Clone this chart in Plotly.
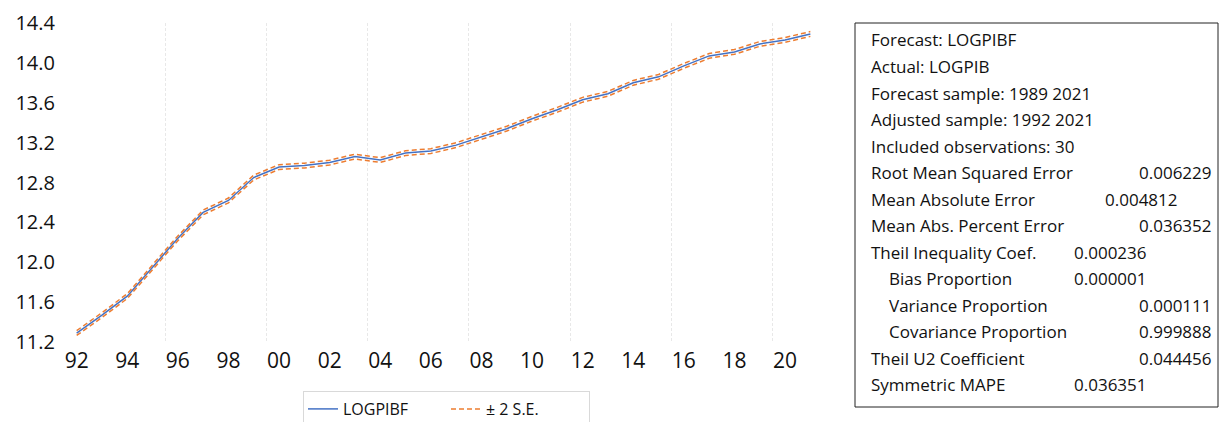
import plotly.graph_objects as go

# Forecast of LOGPIBF, 1992-2021
years = list(range(1992, 2022))
logpibf = [11.29, 11.47, 11.66, 11.95, 12.24, 12.50, 12.62, 12.85, 12.955, 12.97,
           13.00, 13.06, 13.025, 13.095, 13.115, 13.175, 13.26, 13.34, 13.44, 13.53,
           13.63, 13.69, 13.80, 13.86, 13.97, 14.07, 14.11, 14.19, 14.23, 14.29]
two_se = 0.024  # half-width of the +/- 2 S.E. band

x_tick_vals = list(range(1992, 2021, 2))
x_tick_text = [f"{y % 100:02d}" for y in x_tick_vals]
grid_years = [1995.5, 1999.5, 2003.5, 2007.5, 2011.5, 2015.5, 2019.5]

stat_labels = [
    "Forecast: LOGPIBF",
    "Actual: LOGPIB",
    "Forecast sample: 1989 2021",
    "Adjusted sample: 1992 2021",
    "Included observations: 30",
    "Root Mean Squared Error",
    "Mean Absolute Error",
    "Mean Abs. Percent Error",
    "Theil Inequality Coef.",
    "Bias Proportion",
    "Variance Proportion",
    "Covariance Proportion",
    "Theil U2 Coefficient",
    "Symmetric MAPE",
]
stat_values = ["", "", "", "", "", "0.006229", "0.004812", "0.036352", "0.000236",
               "0.000001", "0.000111", "0.999888", "0.044456", "0.036351"]
stat_indent = [False] * 9 + [True, True, True] + [False, False]
# value column: "r" = right aligned at box edge, "m"/"m2" = middle columns
stat_value_pos = ["", "", "", "", "", "r", "m2", "r", "m", "m", "r", "r", "r", "m"]

upper = [v + two_se for v in logpibf]
lower = [v - two_se for v in logpibf]

W, H = 1230, 422
L, R, T, B = 64, 407, 23, 80
PW, PH = W - L - R, H - T - B


def px(xp):
    return (xp - L) / PW


def py(yp):
    return (H - B - yp) / PH


FONT = "Open Sans"
BLUE = "#4472C4"
ORANGE = "#ED7D31"
TXT = 17

fig = go.Figure()
fig.add_trace(go.Scatter(x=years, y=logpibf, mode="lines", name="LOGPIBF",
                         line=dict(color=BLUE, width=1.5)))
fig.add_trace(go.Scatter(x=years, y=upper, mode="lines", name="± 2 S.E.",
                         legendgroup="se",
                         line=dict(color=ORANGE, width=1.5, dash="5px,3px")))
fig.add_trace(go.Scatter(x=years, y=lower, mode="lines", name="± 2 S.E.",
                         legendgroup="se", showlegend=False,
                         line=dict(color=ORANGE, width=1.5, dash="5px,3px")))
# invisible trace on the gridline axis
fig.add_trace(go.Scatter(x=[1991.5], y=[None], xaxis="x2", showlegend=False,
                         hoverinfo="skip"))

fig.update_layout(
    width=W, height=H,
    margin=dict(l=L, r=R, t=T, b=B, autoexpand=False),
    paper_bgcolor="white", plot_bgcolor="white",
    font=dict(family=FONT, color="#111111"),
    xaxis=dict(range=[1991.5, 2021.5], tickmode="array", tickvals=x_tick_vals,
               ticktext=x_tick_text, showgrid=False, zeroline=False,
               showline=False, ticks="", tickfont=dict(size=21),
               ticklabelstandoff=4),
    xaxis2=dict(range=[1991.5, 2021.5], overlaying="x", tickmode="array",
                tickvals=grid_years, showticklabels=False, showgrid=True,
                gridcolor="#e8e8e8", griddash="3px,2px", gridwidth=1,
                zeroline=False, showline=False, ticks=""),
    yaxis=dict(range=[11.2, 14.4], dtick=0.4, tick0=11.2, tickformat=".1f",
               showgrid=False, zeroline=False, showline=False, ticks="",
               tickfont=dict(size=20), ticklabelstandoff=8),
    showlegend=True,
    legend=dict(orientation="h", x=px(303), y=py(391), xanchor="left",
                yanchor="top", bordercolor="#d9d9d9", borderwidth=1,
                font=dict(size=16, family=FONT, color="#111111"),
                bgcolor="white", tracegroupgap=0, entrywidth=98),
)

# statistics box
fig.add_shape(type="rect", xref="paper", yref="paper",
              x0=px(855), x1=px(1218), y0=py(407), y1=py(23),
              line=dict(color="#222222", width=1), fillcolor="white")

for i, lab in enumerate(stat_labels):
    yc = 40 + i * 26.5
    xl = 887 if stat_indent[i] else 869
    fig.add_annotation(xref="paper", yref="paper", x=px(xl), y=py(yc),
                       text=lab, showarrow=False, xanchor="left",
                       yanchor="middle", font=dict(size=TXT, family=FONT))
    pos = stat_value_pos[i]
    if pos:
        if pos == "r":
            fig.add_annotation(xref="paper", yref="paper", x=px(1214), y=py(yc),
                               text=stat_values[i], showarrow=False,
                               xanchor="right", yanchor="middle",
                               font=dict(size=TXT, family=FONT))
        else:
            xv = 1103 if pos == "m2" else 1072
            fig.add_annotation(xref="paper", yref="paper", x=px(xv), y=py(yc),
                               text=stat_values[i], showarrow=False,
                               xanchor="left", yanchor="middle",
                               font=dict(size=TXT, family=FONT))

fig.write_html("out.html")
